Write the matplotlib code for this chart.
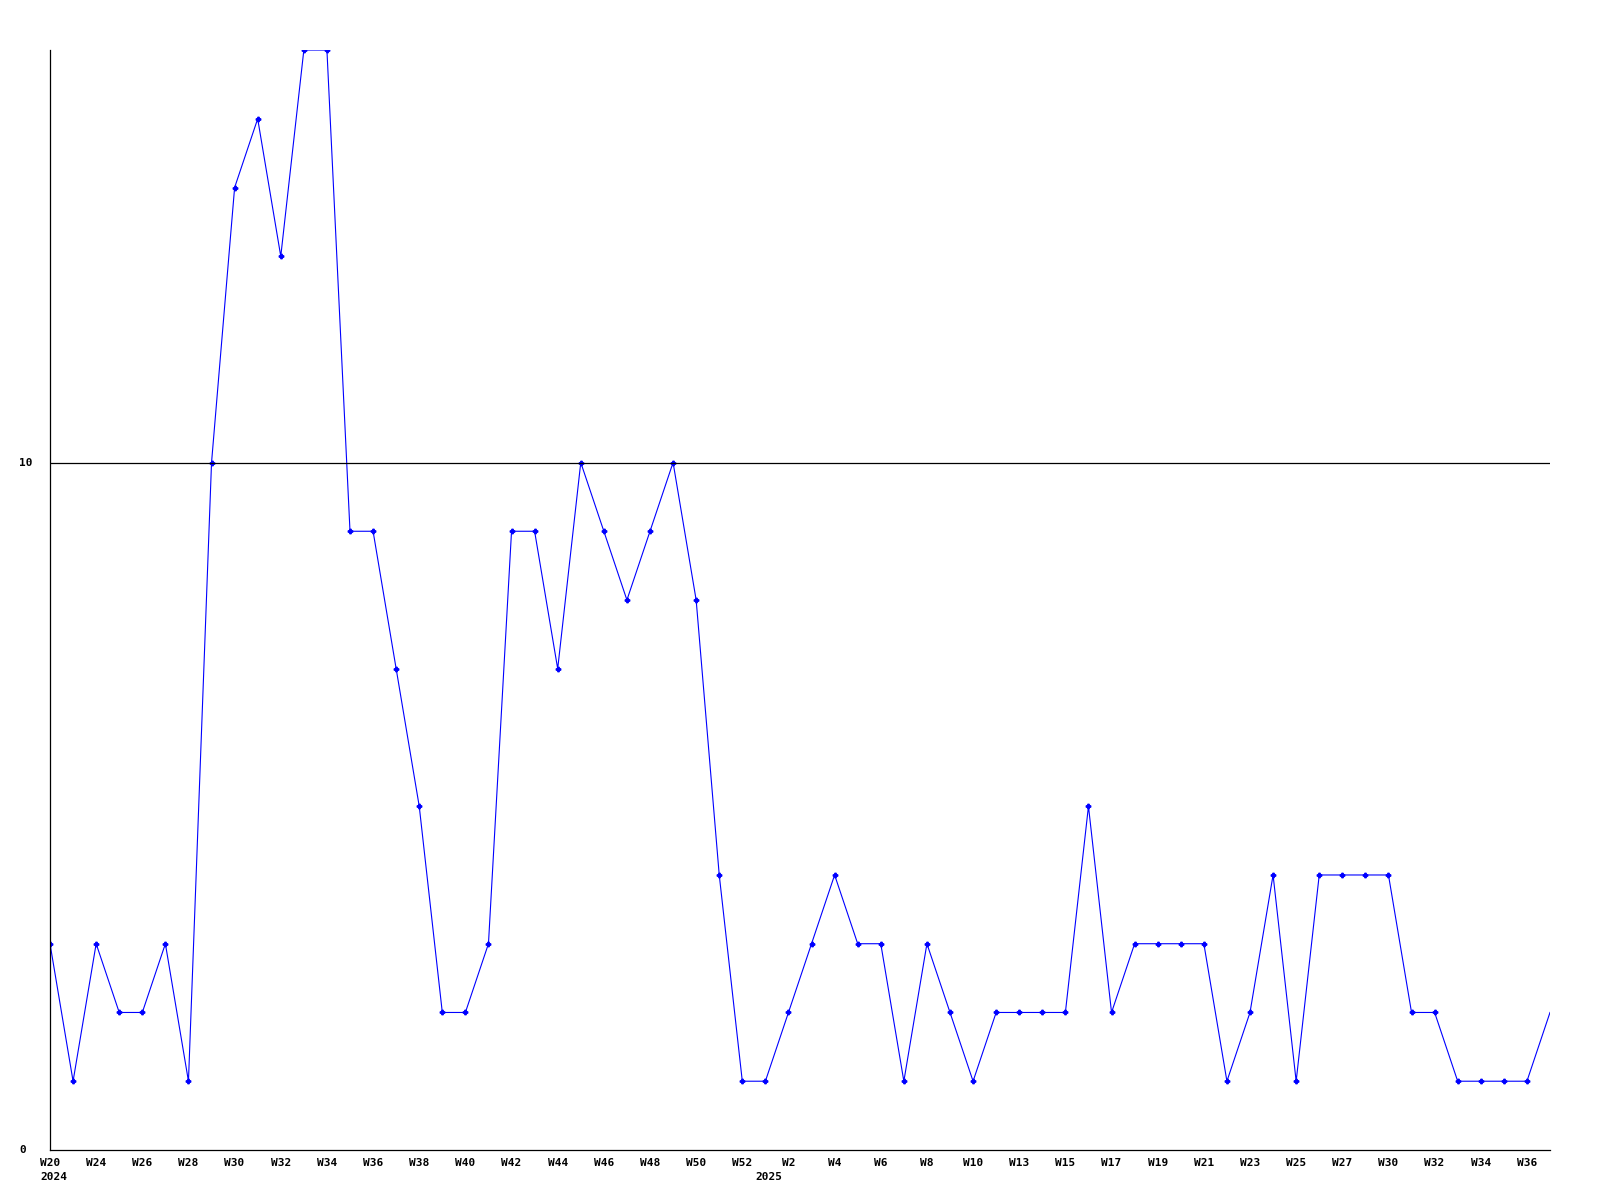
import matplotlib
matplotlib.use("Agg")
import matplotlib.pyplot as plt
import numpy as np

# weekly counts, W20 2024 .. W37 2025
values = [3, 1, 3, 2, 2, 3, 1, 10, 14, 15, 13, 16, 16, 9, 9, 7, 5, 2, 2, 3,
          9, 9, 7, 10, 9, 8, 9, 10, 8, 4, 1, 1, 2, 3, 4, 3, 3, 1, 3, 2,
          1, 2, 2, 2, 2, 5, 2, 3, 3, 3, 3, 1, 2, 4, 1, 4, 4, 4, 4, 2,
          2, 1, 1, 1, 1, 2]

week_labels = ["W20", "W24", "W26", "W28", "W30", "W32", "W34", "W36", "W38",
               "W40", "W42", "W44", "W46", "W48", "W50", "W52", "W2", "W4",
               "W6", "W8", "W10", "W13", "W15", "W17", "W19", "W21", "W23",
               "W25", "W27", "W30", "W32", "W34", "W36"]
# year label sits under the first week of that year
year_labels = {0: "2024", 31: "2025"}

y_ticks = [0, 10]
y_max = 16

x = np.arange(len(values))
font = dict(family="DejaVu Sans Mono", fontweight="bold", fontsize=8)

fig = plt.figure(figsize=(16, 12), dpi=100)
ax = fig.add_axes([0.03125, 0.0417, 0.9375, 0.9166])

ax.axhline(10, color="black", lw=0.9, zorder=3)
ax.plot(x, values, color="blue", lw=0.8, marker="P", markersize=3.2,
        markevery=list(range(len(values) - 1)), zorder=2)

ax.set_xlim(0, len(values) - 1)
ax.set_ylim(0, y_max)

for s in ["top", "right"]:
    ax.spines[s].set_visible(False)
ax.spines["left"].set_linewidth(0.9)
ax.spines["bottom"].set_linewidth(0.9)

ax.set_xticks([])
ax.set_yticks([])

for i, lab in enumerate(week_labels):
    ax.annotate(lab, (2 * i, 0), xytext=(0, -5.5), textcoords="offset points",
                ha="center", va="top", annotation_clip=False, **font)
for i, lab in year_labels.items():
    ax.annotate(lab, (i, 0), xytext=(2.5, -16), textcoords="offset points",
                ha="center", va="top", annotation_clip=False, **font)
# y labels sit left-aligned at a fixed pixel column
for t in y_ticks:
    ax.annotate(str(t), (0, t), xytext=(-22, 0), textcoords="offset points",
                ha="left", va="center", annotation_clip=False, **font)

fig.savefig("out.png")
